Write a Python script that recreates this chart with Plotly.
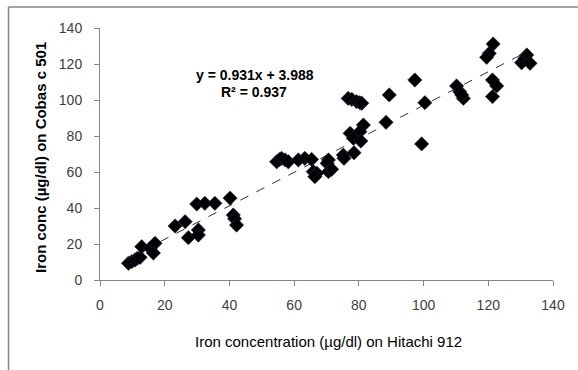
import plotly.graph_objects as go

hitachi = [8.8, 9.8, 10.8, 11.5, 12.4, 12.9, 15.5, 17.0, 16.5,
           23.2, 26.3, 27.3, 30.4, 30.4, 29.9, 32.4, 35.5,
           40.2, 41.2, 41.6, 42.2,
           54.6, 55.5, 56.1, 57.2, 58.2, 61.3, 63.3, 65.4,
           65.9, 67.0, 66.4, 70.6, 70.2, 70.6, 71.6, 75.2, 75.4, 78.5,
           76.7, 77.8, 79.3, 80.3, 80.9, 89.4, 100.4,
           81.4, 77.3, 80.3, 78.3, 80.6, 88.4, 99.4, 97.3,
           121.5, 120.3, 119.5, 131.9, 131.3, 130.3, 132.9,
           110.2, 111.2, 112.3, 111.8, 121.3, 122.6, 121.3]
cobas = [9.3, 10.2, 11.1, 12.0, 12.6, 18.5, 17.6, 20.4, 15.0,
         30.0, 32.4, 23.5, 27.8, 25.0, 42.2, 42.6, 42.6,
         45.5, 36.1, 34.0, 30.5,
         65.7, 67.0, 67.6, 66.7, 65.7, 66.7, 67.6, 67.0,
         60.2, 59.3, 57.4, 66.7, 64.8, 60.2, 61.5, 69.4, 67.6, 70.7,
         100.9, 100.4, 99.1, 98.5, 98.2, 102.8, 98.5,
         86.1, 81.5, 82.4, 78.7, 77.2, 87.6, 75.6, 111.1,
         131.1, 125.9, 123.7, 125.0, 123.2, 120.7, 120.4,
         107.8, 104.6, 100.9, 102.8, 111.1, 107.8, 101.9]
slope = 0.931
intercept = 3.988
r2 = 0.937
ticks = [0, 20, 40, 60, 80, 100, 120, 140]

xmin, xmax = min(hitachi), max(hitachi)
trend_x = [xmin, xmax]
trend_y = [slope * v + intercept for v in trend_x]

fig = go.Figure()
fig.add_trace(go.Scatter(x=trend_x, y=trend_y, mode="lines",
                         line=dict(color="#303030", width=1, dash="dash"),
                         hoverinfo="skip", showlegend=False))
fig.add_trace(go.Scatter(x=hitachi, y=cobas, mode="markers",
                         marker=dict(symbol="diamond", size=11, color="#000000",
                                     line=dict(color="#1c2a4a", width=0.6)),
                         showlegend=False))

L, R, T, B = 100, 25, 28, 90
W, H = 578, 370
pw, ph = W - L - R, H - T - B

def px_x(p):
    return (p - L) / pw

def px_y(p):
    return 1 - (p - T) / ph

axis_common = dict(range=[0, 140], tickvals=ticks, showgrid=False, zeroline=False,
                   showline=True, linecolor="#868686", linewidth=1,
                   ticks="outside", ticklen=5, tickcolor="#868686",
                   tickfont=dict(family="Liberation Sans", size=14, color="#404040"))

fig.update_layout(
    width=W, height=H,
    margin=dict(l=L, r=R, t=T, b=B),
    paper_bgcolor="white", plot_bgcolor="white",
    xaxis=dict(**axis_common, ticklabelstandoff=7),
    yaxis=dict(**axis_common, ticklabelstandoff=9),
    font=dict(family="Liberation Sans"),
    annotations=[
        dict(text=f"<b>y = {slope}x + {intercept}</b>",
             x=px_x(255), y=px_y(75), xref="paper", yref="paper",
             xanchor="center", yanchor="middle",
             showarrow=False, font=dict(size=14, color="#000000")),
        dict(text=f"<b>R² = {r2}</b>",
             x=px_x(254), y=px_y(92), xref="paper", yref="paper",
             xanchor="center", yanchor="middle",
             showarrow=False, font=dict(size=14, color="#000000")),
        dict(text="Iron concentration (µg/dl) on Hitachi 912",
             x=px_x(328), y=px_y(341), xref="paper", yref="paper",
             xanchor="center", yanchor="middle",
             showarrow=False, font=dict(size=15, color="#000000")),
        dict(text="<b>Iron conc (µg/dl) on Cobas c 501</b>",
             x=px_x(40), y=px_y(158), xref="paper", yref="paper", textangle=-90,
             xanchor="center", yanchor="middle",
             showarrow=False, font=dict(size=15, color="#000000")),
    ],
    shapes=[
        dict(type="line", xref="paper", yref="paper",
             x0=px_x(8.5), x1=px_x(8.5), y0=px_y(7), y1=px_y(375),
             line=dict(color="#868686", width=1.5)),
        dict(type="line", xref="paper", yref="paper",
             x0=px_x(8.5), x1=px_x(585), y0=px_y(7), y1=px_y(7),
             line=dict(color="#868686", width=1.5)),
    ],
)

fig.write_html("out.html")
